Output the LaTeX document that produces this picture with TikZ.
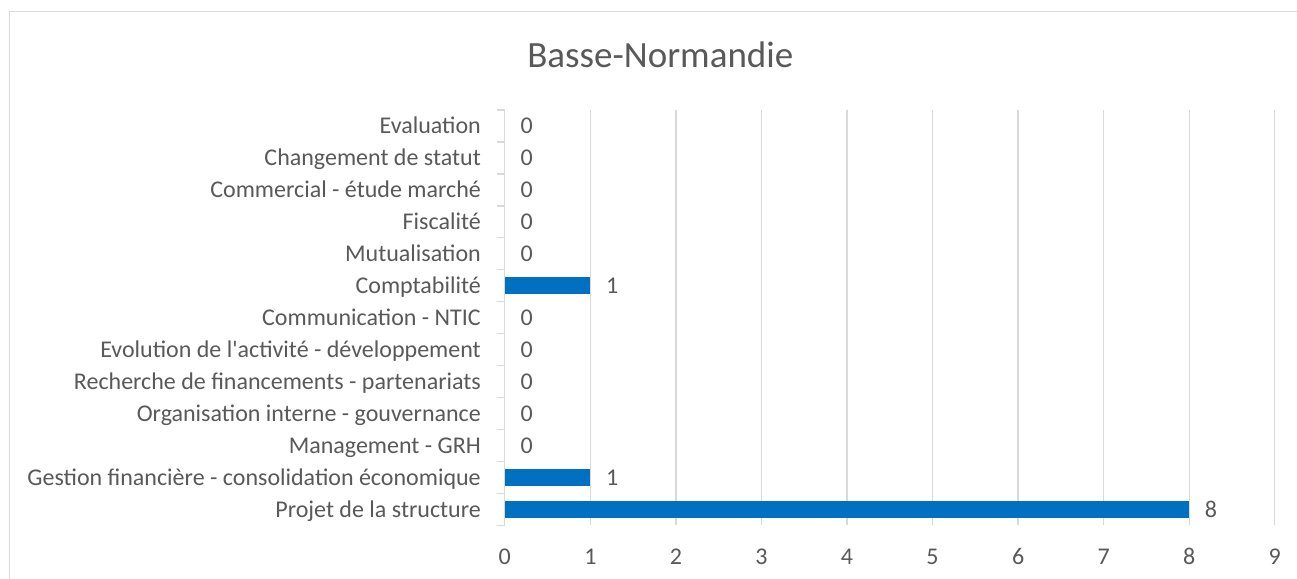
\documentclass[tikz,border=0pt]{standalone}
\usepackage{fontspec}
\setmainfont{Carlito}
\definecolor{gridgray}{HTML}{D9D9D9}
\definecolor{txtgray}{HTML}{595959}
\definecolor{barblue}{HTML}{0070C0}
\begin{document}
\begin{tikzpicture}[x=1pt,y=-1pt,
  gridline/.style={draw=gridgray,line width=1.3pt},
  catlabel/.style={anchor=base east,inner sep=0pt,text=txtgray,font=\fontsize{24}{28}\selectfont},
  vallabel/.style={anchor=base west,inner sep=0pt,text=txtgray,font=\fontsize{24}{28}\selectfont},
  ticklabel/.style={anchor=base,inner sep=0pt,text=txtgray,font=\fontsize{24}{28}\selectfont},
  titlelabel/.style={anchor=base,inner sep=0pt,text=txtgray,font=\fontsize{37}{44}\selectfont},
  barfill/.style={fill=barblue,draw=none}]
\useasboundingbox (0,0) rectangle (1297,578);
\fill[white] (0,0) rectangle (1297,578);
% outer chart border (right and bottom edges outside the image)
\draw[gridgray,line width=1.3pt] (9.5,600) -- (9.5,11.5) -- (1320,11.5);
\node[titlelabel] (title) at (660.3,67.3) {Basse-Normandie};
% gridlines and tick labels
\foreach \k in {1,...,9}{
  \coordinate (gt\k) at (504.8+85.55*\k,110);
  \coordinate (gb\k) at (504.8+85.55*\k,525.3);
  \draw[gridline] (gt\k) -- (gb\k);
}
\foreach \k in {0,...,9}{
  \node[ticklabel] (t\k) at (504.8+85.55*\k,564.3) {\k};
}
% axis
\coordinate (axtop) at (504.8,110);
\coordinate (axbot) at (504.8,525.3);
\draw[gridline] (axtop) -- (axbot);
\foreach \j in {0,...,13}{
  \coordinate (tka\j) at (496.8,110+31.95*\j);
  \coordinate (tkb\j) at (504.8,110+31.95*\j);
  \draw[gridline] (tka\j) -- (tkb\j);
}
% categories: index from top, label, value
\foreach \i/\lab/\v in {
  0/Evaluation/0,
  1/Changement de statut/0,
  2/Commercial - étude marché/0,
  3/Fiscalité/0,
  4/Mutualisation/0,
  5/Comptabilité/1,
  6/Communication - NTIC/0,
  7/Evolution de l\textquotesingle activité - développement/0,
  8/Recherche de financements - partenariats/0,
  9/Organisation interne - gouvernance/0,
  10/Management - GRH/0,
  11/Gestion financière - consolidation économique/1,
  12/Projet de la structure/8}{
  \pgfmathsetmacro{\yc}{110+31.95*\i+15.975}
  \pgfmathsetmacro{\xe}{504.8+85.55*\v}
  \node[catlabel] (c\i) at (481,\yc+7.8) {\lab};
  \ifnum\v>0
    \fill[barfill] (504.8,\yc-8.3) rectangle (\xe,\yc+8.3);
  \fi
  \node[vallabel] (v\i) at (\xe+15.5,\yc+7.8) {\v};
}
\end{tikzpicture}
\end{document}
